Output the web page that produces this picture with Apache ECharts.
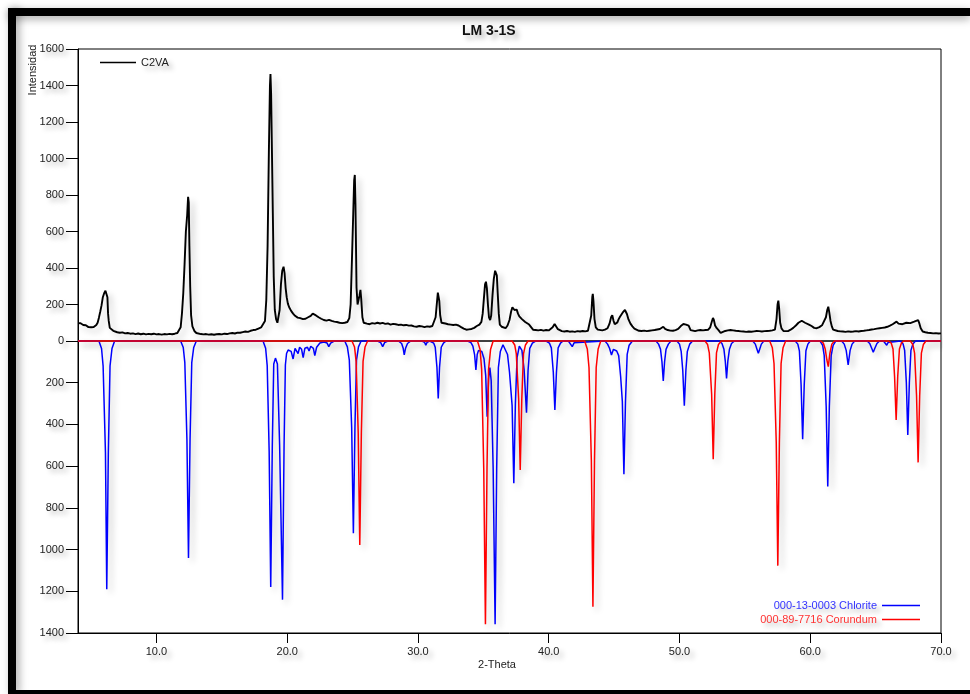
<!DOCTYPE html>
<html>
<head>
<meta charset="utf-8">
<script src="https://cdn.jsdelivr.net/npm/echarts@6/dist/echarts.min.js"></script>
<style>
html,body{margin:0;padding:0;background:#fff;}
#chart{width:970px;height:694px;}
</style>
</head>
<body>
<div id="chart"></div>
<script>
// ---- data (2-Theta, intensity) ----
const titleText = 'LM 3-1S';
const seriesNames = ['C2VA', '000-13-0003 Chlorite', '000-89-7716 Corundum'];
const xTickValues = [10, 20, 30, 40, 50, 60, 70];
const yTopMax = 1600;
const yBottomMax = 1400;

const c2va = [
[4.0,98],[4.1,94],[4.2,97],[4.3,90],[4.4,88],[4.5,84],[4.6,86],[4.7,79],[4.8,76],[4.9,72],
[5.0,75],[5.1,71],[5.2,77],[5.3,82],[5.4,88],[5.5,100],[5.6,128],[5.7,160],[5.8,195],[5.9,240],
[6.0,262],[6.1,275],[6.18,282],[6.25,240],[6.3,150],[6.35,110],[6.43,72],[6.55,62],[6.7,56],[6.85,52],
[7.0,48],[7.2,45],[7.4,47],[7.6,42],[7.8,44],[8.0,40],[8.2,42],[8.4,38],[8.6,41],[8.8,37],
[9.0,40],[9.2,36],[9.4,39],[9.6,37],[9.8,40],[10.0,36],[10.2,38],[10.4,35],[10.6,38],[10.8,36],
[11.0,39],[11.2,37],[11.4,40],[11.6,44],[11.75,52],[11.85,75],[11.95,150],[12.05,260],[12.15,420],[12.25,600],
[12.35,690],[12.42,790],[12.47,760],[12.52,520],[12.58,300],[12.65,140],[12.75,80],[12.9,55],[13.05,44],[13.2,40],
[13.4,38],[13.6,36],[13.8,38],[14.0,35],[14.2,37],[14.4,34],[14.6,37],[14.8,38],[15.0,36],[15.2,40],
[15.4,38],[15.6,42],[15.8,44],[16.0,41],[16.2,46],[16.4,45],[16.6,49],[16.8,52],[17.0,50],[17.2,56],
[17.4,60],[17.6,62],[17.8,68],[18.0,74],[18.15,82],[18.3,110],[18.4,225],[18.5,520],[18.6,1050],[18.68,1400],
[18.72,1463],[18.77,1350],[18.83,1050],[18.9,700],[18.97,350],[19.05,170],[19.15,120],[19.25,100],[19.32,97],[19.42,170],
[19.52,310],[19.62,385],[19.72,407],[19.8,370],[19.88,290],[19.96,240],[20.05,205],[20.15,185],[20.3,165],[20.45,150],
[20.6,138],[20.8,128],[21.0,125],[21.2,120],[21.4,122],[21.6,130],[21.8,138],[21.95,150],[22.05,152],[22.2,140],
[22.4,130],[22.6,122],[22.8,115],[23.0,112],[23.2,116],[23.4,110],[23.6,106],[23.8,104],[24.0,100],[24.2,98],
[24.4,100],[24.6,104],[24.75,125],[24.85,200],[24.95,444],[25.05,700],[25.12,880],[25.17,910],[25.22,750],[25.3,293],
[25.38,200],[25.45,190],[25.53,250],[25.6,280],[25.66,230],[25.75,130],[25.85,100],[25.95,90],[26.1,95],[26.3,92],
[26.5,98],[26.7,95],[26.9,100],[27.1,96],[27.3,99],[27.5,94],[27.7,96],[27.9,90],[28.1,94],[28.3,92],
[28.5,88],[28.7,90],[28.9,86],[29.1,88],[29.3,84],[29.5,85],[29.7,80],[29.9,78],[30.1,82],[30.3,80],
[30.5,76],[30.7,80],[30.9,78],[31.1,82],[31.25,90],[31.35,130],[31.45,210],[31.52,265],[31.57,270],[31.63,220],
[31.7,140],[31.8,100],[31.95,94],[32.1,96],[32.3,92],[32.5,90],[32.7,88],[32.9,90],[33.1,85],[33.3,76],
[33.5,68],[33.7,62],[33.9,64],[34.1,66],[34.3,72],[34.5,82],[34.7,90],[34.85,105],[34.95,150],[35.05,240],
[35.13,310],[35.2,325],[35.27,290],[35.35,200],[35.43,130],[35.52,115],[35.6,140],[35.7,250],[35.8,340],[35.9,385],
[35.97,393],[36.03,360],[36.1,260],[36.18,150],[36.26,90],[36.4,78],[36.55,72],[36.7,70],[36.85,85],[37.0,115],
[37.12,160],[37.22,185],[37.3,190],[37.38,170],[37.46,162],[37.55,172],[37.65,150],[37.75,135],[37.85,128],[37.95,120],
[38.05,112],[38.2,104],[38.35,98],[38.5,90],[38.65,80],[38.8,62],[39.0,60],[39.2,58],[39.4,61],[39.6,57],
[39.8,60],[40.0,58],[40.15,62],[40.3,75],[40.45,93],[40.55,85],[40.7,65],[40.85,58],[41.0,54],[41.2,52],
[41.4,55],[41.6,51],[41.8,53],[42.0,50],[42.2,54],[42.4,52],[42.6,55],[42.8,53],[43.0,56],[43.15,65],
[43.25,140],[43.33,240],[43.37,258],[43.42,220],[43.5,120],[43.6,75],[43.75,62],[43.9,60],[44.1,58],[44.3,62],
[44.5,70],[44.65,95],[44.77,130],[44.86,142],[44.95,112],[45.05,92],[45.15,90],[45.25,102],[45.35,120],[45.45,133],
[45.55,140],[45.65,155],[45.75,162],[45.83,170],[45.9,160],[45.98,148],[46.1,118],[46.25,95],[46.4,80],[46.55,68],
[46.7,60],[46.9,56],[47.1,55],[47.3,57],[47.5,54],[47.7,56],[47.9,58],[48.1,60],[48.3,63],[48.5,66],
[48.65,72],[48.76,78],[48.9,66],[49.1,60],[49.3,57],[49.5,56],[49.7,60],[49.9,66],[50.1,82],[50.3,93],
[50.5,90],[50.7,84],[50.85,60],[51.0,51],[51.2,54],[51.4,58],[51.6,60],[51.8,58],[52.0,60],[52.2,62],
[52.35,75],[52.47,105],[52.56,126],[52.63,115],[52.72,85],[52.85,70],[53.0,58],[53.15,44],[53.3,48],[53.5,55],
[53.7,58],[53.9,60],[54.1,58],[54.3,56],[54.5,55],[54.7,53],[54.9,52],[55.1,50],[55.3,52],[55.5,51],
[55.7,53],[55.9,55],[56.1,54],[56.3,52],[56.5,54],[56.7,55],[56.9,56],[57.1,58],[57.3,62],[57.42,120],
[57.5,200],[57.56,221],[57.62,180],[57.7,100],[57.8,69],[57.95,55],[58.1,51],[58.3,54],[58.5,62],[58.7,72],
[58.9,85],[59.1,100],[59.25,108],[59.35,111],[59.45,104],[59.6,100],[59.75,97],[59.9,90],[60.1,82],[60.3,72],
[60.5,70],[60.7,76],[60.9,86],[61.05,95],[61.2,130],[61.3,170],[61.38,188],[61.45,160],[61.55,110],[61.65,80],
[61.75,62],[61.9,58],[62.1,55],[62.3,53],[62.5,52],[62.7,50],[62.9,53],[63.1,51],[63.3,52],[63.5,54],
[63.7,52],[63.9,55],[64.1,56],[64.3,58],[64.5,60],[64.7,63],[64.9,65],[65.1,68],[65.3,70],[65.5,72],
[65.7,74],[65.9,78],[66.1,84],[66.3,92],[66.45,100],[66.6,106],[66.75,95],[66.9,88],[67.05,92],[67.2,96],
[67.35,100],[67.5,100],[67.65,98],[67.8,102],[67.95,106],[68.1,110],[68.25,115],[68.35,95],[68.45,70],[68.6,52],
[68.8,48],[69.0,45],[69.2,44],[69.4,42],[69.6,43],[69.8,41],[70.0,42]
];

const chlorite = [
[4.0,0],[5.6,0],[5.8,36],[5.92,119],[6.1,535],[6.2,1190],[6.32,535],[6.45,119],[6.6,36],[6.8,0],
[11.85,0],[12.05,31],[12.17,104],[12.33,470],[12.45,1040],[12.57,470],[12.7,104],[12.85,31],[13.05,0],
[18.15,0],[18.35,35],[18.47,118],[18.62,530],[18.74,1180],[18.86,500],[18.97,110],[19.1,82],[19.25,110],[19.42,500],
[19.64,1240],[19.76,500],[19.86,115],[19.95,60],[20.07,43],[20.3,50],[20.45,86],[20.6,35],[20.7,40],[20.83,60],
[20.95,30],[21.1,40],[21.22,80],[21.35,35],[21.55,30],[21.67,48],[21.8,25],[22.0,35],[22.11,70],[22.25,30],
[22.5,10],[22.8,5],[23.05,10],[23.18,27],[23.32,10],[23.6,0],
[24.4,0],[24.6,28],[24.75,92],[24.93,415],[25.06,922],[25.18,415],[25.3,92],[25.45,28],[25.65,0],
[26.9,0],[27.15,8],[27.3,27],[27.45,8],[27.7,0],
[28.5,0],[28.75,12],[28.87,35],[28.95,67],[29.05,35],[29.2,12],[29.45,0],
[30.3,0],[30.5,6],[30.6,20],[30.7,6],[30.9,0],
[31.0,0],[31.2,10],[31.32,30],[31.45,125],[31.55,275],[31.65,125],[31.78,30],[31.95,10],[32.15,0],
[33.8,0],[34.05,8],[34.2,25],[34.33,65],[34.43,139],[34.53,65],[34.63,45],[34.75,52],[34.88,50],[35.05,85],
[35.18,165],[35.29,363],[35.4,180],[35.5,128],[35.6,190],[35.75,610],[35.9,1358],[36.02,610],[36.15,128],[36.3,50],
[36.5,18],[36.65,25],[36.85,65],[37.0,150],[37.2,310],[37.33,682],[37.45,300],[37.58,80],[37.75,25],[37.95,45],
[38.12,140],[38.3,344],[38.42,140],[38.55,35],[38.75,10],[39.0,0],
[39.8,0],[40.05,10],[40.2,33],[40.35,150],[40.47,331],[40.59,150],[40.72,33],[40.9,10],[41.1,0],
[41.5,0],[41.65,8],[41.8,27],[41.95,8],[42.1,0],
[44.3,0],[44.5,15],[44.65,35],[44.8,67],[44.95,40],[45.08,38],[45.2,48],[45.35,70],[45.5,170],[45.63,290],
[45.75,639],[45.87,290],[46.0,64],[46.15,20],[46.4,0],
[48.2,0],[48.4,15],[48.55,40],[48.66,100],[48.76,192],[48.86,100],[48.97,40],[49.15,15],[49.35,0],
[49.8,0],[50.0,15],[50.13,50],[50.25,140],[50.37,310],[50.49,140],[50.6,50],[50.78,15],[51.0,0],
[53.05,0],[53.25,12],[53.4,40],[53.5,95],[53.6,179],[53.7,95],[53.82,40],[53.98,12],[54.2,0],
[55.6,0],[55.8,15],[55.92,38],[56.03,59],[56.14,38],[56.26,15],[56.45,0],
[58.85,0],[59.05,15],[59.17,47],[59.3,210],[59.42,471],[59.54,210],[59.67,47],[59.82,15],[60.0,0],
[60.75,0],[60.95,21],[61.07,70],[61.22,315],[61.34,698],[61.46,315],[61.6,70],[61.75,21],[61.95,0],
[62.4,0],[62.6,15],[62.75,45],[62.9,115],[63.05,45],[63.2,15],[63.4,0],
[64.35,0],[64.55,12],[64.7,35],[64.82,54],[64.94,35],[65.1,12],[65.3,0],
[65.6,0],[65.75,7],[65.85,20],[65.95,7],[66.1,0],
[66.9,0],[67.1,14],[67.22,45],[67.35,200],[67.46,451],[67.58,200],[67.7,45],[67.85,14],[68.05,0],
[70.0,0]
];

const corundum = [
[4.0,0],[24.95,0],[25.15,29],[25.27,98],[25.43,440],[25.55,978],[25.67,440],[25.8,98],[25.95,29],[26.15,0],
[34.55,0],[34.75,41],[34.87,136],[35.03,610],[35.16,1358],[35.28,610],[35.4,136],[35.55,41],[35.75,0],
[37.2,0],[37.4,19],[37.52,62],[37.7,278],[37.82,618],[37.94,278],[38.07,62],[38.22,19],[38.42,0],
[42.75,0],[42.95,38],[43.08,127],[43.26,573],[43.38,1274],[43.5,573],[43.63,127],[43.78,38],[43.98,0],
[51.95,0],[52.15,17],[52.28,57],[52.46,255],[52.58,567],[52.7,255],[52.83,57],[52.98,17],[53.2,0],
[56.9,0],[57.1,32],[57.23,108],[57.4,485],[57.52,1077],[57.64,485],[57.77,108],[57.92,32],[58.12,0],
[60.8,0],[61.0,10],[61.15,40],[61.27,90],[61.38,123],[61.5,60],[61.65,15],[61.85,0],
[66.0,0],[66.2,11],[66.33,38],[66.45,170],[66.57,379],[66.69,170],[66.82,38],[66.97,11],[67.15,0],
[67.65,0],[67.85,17],[67.98,58],[68.13,262],[68.25,582],[68.37,262],[68.5,58],[68.65,17],[68.85,0],
[70.0,0]
];

// ---- chart ----
const FONT = '"Liberation Sans", Arial, sans-serif';
const tShadow = {textShadowColor:'rgba(0,0,0,0.28)', textShadowBlur:5, textShadowOffsetX:4, textShadowOffsetY:4};
const lShadow = {shadowColor:'rgba(0,0,0,0.22)', shadowBlur:6, shadowOffsetX:4, shadowOffsetY:4};
const plainNum = function(v){ return String(Math.round(v)); };

const chart = echarts.init(document.getElementById('chart'), null, {renderer:'canvas'});

const option = {
  backgroundColor:'#ffffff',
  animation:false,
  title:{
    text:titleText, left:462, top:24, padding:0,
    textStyle:Object.assign({fontFamily:FONT, fontSize:14, fontWeight:'bold', color:'#111'}, tShadow)
  },
  legend:[
    {
      data:[seriesNames[0]], left:100, top:57, padding:0, icon:'rect',
      itemWidth:36, itemHeight:1.5, selectedMode:false,
      textStyle:Object.assign({fontFamily:FONT, fontSize:11, color:'#222'}, tShadow)
    },
    {
      data:[
        {name:seriesNames[1], textStyle:Object.assign({color:'#3333ff'}, tShadow)},
        {name:seriesNames[2], textStyle:Object.assign({color:'#ff3333'}, tShadow)}
      ],
      orient:'vertical', align:'right', right:50, top:599, padding:0, icon:'rect',
      itemWidth:38, itemHeight:1.5, itemGap:1, selectedMode:false,
      textStyle:{fontFamily:FONT, fontSize:11, lineHeight:13}
    }
  ],
  grid:[
    {left:78, top:49, width:863, height:292, show:true, borderColor:'#000', borderWidth:1, backgroundColor:'transparent'},
    {left:78, top:341, width:863, height:292, show:true, borderColor:'#000', borderWidth:1, backgroundColor:'transparent'}
  ],
  xAxis:[
    {gridIndex:0, type:'value', min:4, max:70,
     axisLine:{show:false}, axisTick:{show:false}, axisLabel:{show:false}, splitLine:{show:false}},
    {gridIndex:1, type:'value', min:4, max:70,
     axisLine:{show:true, onZero:false, lineStyle:{color:'#000', width:1}},
     axisTick:{show:true, length:10, customValues:xTickValues, lineStyle:{color:'#000', width:1}},
     axisLabel:{show:true, customValues:xTickValues, margin:13, fontFamily:FONT, fontSize:11, color:'#222',
       formatter:function(v){return Number(v).toFixed(1);}, ...tShadow},
     splitLine:{show:false}}
  ],
  yAxis:[
    {gridIndex:0, type:'value', min:0, max:yTopMax, interval:200,
     axisLine:{show:true, lineStyle:{color:'#000', width:1}},
     axisTick:{show:true, length:12, lineStyle:{color:'#000', width:1}},
     axisLabel:{margin:14, formatter:plainNum, fontFamily:FONT, fontSize:11, color:'#222', ...tShadow},
     splitLine:{show:false}},
    {gridIndex:1, type:'value', min:0, max:yBottomMax, interval:200, inverse:true,
     axisLine:{show:true, lineStyle:{color:'#000', width:1}},
     axisTick:{show:true, length:12, lineStyle:{color:'#000', width:1}},
     axisLabel:{margin:14, showMinLabel:false, formatter:plainNum, fontFamily:FONT, fontSize:11, color:'#222', ...tShadow},
     splitLine:{show:false}}
  ],
  series:[
    {name:seriesNames[0], type:'line', xAxisIndex:0, yAxisIndex:0, data:c2va,
     showSymbol:false, symbol:'none', clip:false, color:'#000',
     lineStyle:Object.assign({color:'#000', width:1.9}, lShadow)},
    {name:seriesNames[1], type:'line', xAxisIndex:1, yAxisIndex:1, data:chlorite,
     showSymbol:false, symbol:'none', clip:false, color:'#0000ff', z:3,
     lineStyle:Object.assign({color:'#0000ff', width:1.5}, lShadow)},
    {name:seriesNames[2], type:'line', xAxisIndex:1, yAxisIndex:1, data:corundum,
     showSymbol:false, symbol:'none', clip:false, color:'#ff0000', z:4,
     lineStyle:Object.assign({color:'#ff0000', width:1.5}, lShadow)}
  ],
  graphic:[
    {type:'rect', shape:{x:8, y:8, width:962, height:8}, style:{fill:'#000', shadowColor:'rgba(0,0,0,0.35)', shadowBlur:8, shadowOffsetY:3}, z:100},
    {type:'rect', shape:{x:8, y:8, width:8, height:686}, style:{fill:'#000', shadowColor:'rgba(0,0,0,0.35)', shadowBlur:8, shadowOffsetX:3}, z:100},
    {type:'rect', shape:{x:8, y:690, width:962, height:4}, style:{fill:'#000'}, z:100},
    {type:'text', x:33, y:70, rotation:Math.PI/2,
     style:{text:'Intensidad', font:'11px ' + FONT, fill:'#222', align:'center', verticalAlign:'middle',
       shadowColor:'rgba(0,0,0,0.28)', shadowBlur:5, shadowOffsetX:4, shadowOffsetY:4}, z:100},
    {type:'text', x:497, y:665,
     style:{text:'2-Theta', font:'11px ' + FONT, fill:'#222', align:'center', verticalAlign:'middle',
       shadowColor:'rgba(0,0,0,0.28)', shadowBlur:5, shadowOffsetX:4, shadowOffsetY:4}, z:100}
  ]
};
chart.setOption(option);
</script>
</body>
</html>
